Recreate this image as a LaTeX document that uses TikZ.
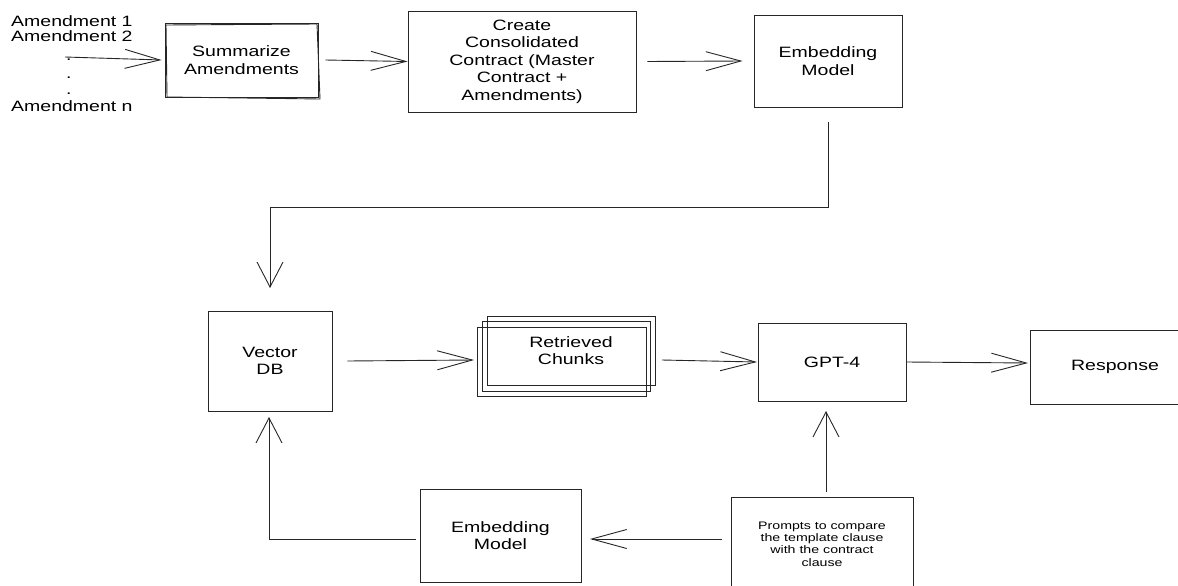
\documentclass[tikz,border=0pt]{standalone}
\usepackage{fontspec}
\setmainfont{Liberation Sans}[FakeStretch=1.3]
\usetikzlibrary{arrows.meta}
\begin{document}
\begin{tikzpicture}[x=1pt,y=-1pt,
  box/.style={draw=black!85, line width=0.9pt, align=center, inner sep=0pt,
    font=\fontsize{15}{17.5}\selectfont},
  small/.style={font=\fontsize{10.9}{12.2}\selectfont},
  conn/.style={draw=black!85, line width=0.9pt},
  harr/.style={conn, -{Straight Barb[length=35pt,width=19pt]}},
  varr/.style={conn, -{Straight Barb[length=25pt,width=26pt]}},
  lbl/.style={inner sep=0pt, anchor=base west, font=\fontsize{15}{17.5}\selectfont}
]
\useasboundingbox (0,0) rectangle (1178,586);
\clip (0,0) rectangle (1178,586);

% input texts
\node[lbl] (a1) at (11,27) {Amendment 1};
\node[lbl] (a2) at (11,42) {Amendment 2};
\node[lbl] (d1) at (66,61) {.};
\node[lbl] (d2) at (66,78) {.};
\node[lbl] (d3) at (66,95) {.};
\node[lbl] (an) at (11,111) {Amendment n};

% boxes
\node[box, minimum width=153pt, minimum height=74pt] (sum) at (241.5,60) {Summarize\\Amendments};
\draw[conn] (166,25) -- (317,24) -- (320,99) -- (167,97) -- cycle;
\node[box, minimum width=228pt, minimum height=101pt] (cre) at (522,61.5) {Create\\Consolidated\\Contract (Master\\Contract +\\Amendments)};
\node[box, minimum width=148pt, minimum height=92pt] (emb1) at (828,61) {Embedding\\Model};
\node[box, minimum width=124pt, minimum height=100pt] (vdb) at (270,361) {Vector\\DB};
\draw[conn] (477,327) rectangle (646,396);
\draw[conn] (482,321) rectangle (650,391);
\node[box, minimum width=168pt, minimum height=69pt] (ret) at (571,350.5) {Retrieved\\Chunks};
\node[box, minimum width=148pt, minimum height=78pt] (gpt) at (832,362) {GPT-4};
\node[box, minimum width=170pt, minimum height=74pt] (resp) at (1115,367) {Response};
\node[box, small, minimum width=182pt, minimum height=94pt] (pr) at (822,544) {Prompts to compare\\the template clause\\with the contract\\clause};
\node[box, minimum width=161pt, minimum height=93pt] (emb2) at (500.5,535.5) {Embedding\\Model};

% connector coordinates
\coordinate (am) at (65,57);
\coordinate (e1o) at (828,122);
\coordinate (bend) at (270,207);
\coordinate (vtop) at (270,288);
\coordinate (retin) at (474,360);
\coordinate (retout) at (662,360);
\coordinate (gin) at (757,362);
\coordinate (rin) at (1028,363);
\coordinate (pu) at (826,492);
\coordinate (gd) at (826,411);
\coordinate (pl) at (722,539);
\coordinate (e2in) at (590,539);
\coordinate (e2o) at (416,539);
\coordinate (vbot) at (269,417);

% connectors
\draw[harr] (am) -- ([xshift=-3pt]sum.west);
\draw[harr] ([xshift=7pt]sum.east) -- (cre.west);
\draw[harr] ([xshift=11pt]cre.east) -- ([xshift=-11pt]emb1.west);
\draw[varr] (e1o) -- (e1o |- bend) -- (bend) -- (vtop);
\draw[harr] ([xshift=15pt]vdb.east) -- (retin);
\draw[harr] (retout) -- (gin);
\draw[harr] (gpt.east) -- (rin);
\draw[varr] (pu) -- (gd);
\draw[harr] (pl) -- (e2in);
\draw[varr] (e2o) -| (vbot);
\end{tikzpicture}
\end{document}
